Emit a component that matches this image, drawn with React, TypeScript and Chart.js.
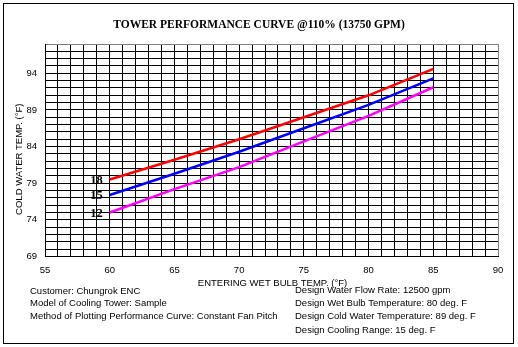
import React, { useEffect, useRef } from "react";
import { Chart, registerables } from "chart.js";

Chart.register(...registerables);

const chartTitle = "TOWER PERFORMANCE CURVE @110% (13750 GPM)";
const xAxisTitle = "ENTERING WET BULB TEMP. (°F)";
const yAxisTitle = "COLD WATER TEMP. (°F)";

const xMin = 55;
const xMax = 90;
const yMin = 69;
const yMax = 98;

const wetBulb = [60, 65, 70, 75, 80, 85];
const range18 = [79.5, 82.2, 85.0, 88.0, 91.0, 94.6];
const range15 = [77.4, 80.3, 83.3, 86.5, 89.7, 93.3];
const range12 = [75.0, 78.2, 81.2, 84.7, 88.2, 92.1];
const rangeLabels = ["18", "15", "12"];
const rangeColors = ["#ff0000", "#0000ff", "#ff00ff"];

const infoLeft = [
  "Customer: Chungrok ENC",
  "Model of Cooling Tower: Sample",
  "Method of Plotting Performance Curve: Constant Fan Pitch",
];
const infoRight = [
  "Design Water Flow Rate: 12500 gpm",
  "Design Wet Bulb Temperature: 80 deg. F",
  "Design Cold Water Temperature: 89 deg. F",
  "Design Cooling Range: 15 deg. F",
];

const SANS = "'Liberation Sans', Arial, sans-serif";
const SERIF = "'Liberation Serif', 'Times New Roman', serif";

export default function App() {
  const ref = useRef<HTMLCanvasElement | null>(null);

  useEffect(() => {
    if (!ref.current) return;
    const series = [range18, range15, range12];

    const decor = {
      id: "decor",
      afterDraw(chart: any) {
        const ctx = chart.ctx;
        const xs = chart.scales.x;
        const ys = chart.scales.y;
        ctx.save();
        // outer frame
        ctx.strokeStyle = "#000";
        ctx.lineWidth = 1;
        ctx.strokeRect(3.5, 3.5, 510, 340);
        // title
        ctx.fillStyle = "#000";
        ctx.font = `bold 11.5px ${SERIF}`;
        ctx.textAlign = "center";
        ctx.textBaseline = "middle";
        ctx.fillText(chartTitle, 259, 25);
        // range labels
        ctx.font = `bold 12.5px ${SERIF}`;
        ctx.textAlign = "right";
        series.forEach((s, i) => {
          const px = xs.getPixelForValue(wetBulb[0]) - 7;
          const py = ys.getPixelForValue(s[0]);
          ctx.fillText(rangeLabels[i], px, py + 1);
        });
        // axis titles
        ctx.font = `9.5px ${SANS}`;
        ctx.textAlign = "center";
        ctx.fillText(xAxisTitle, (chart.chartArea.left + chart.chartArea.right) / 2 + 1, 283);
        ctx.save();
        ctx.translate(19, (chart.chartArea.top + chart.chartArea.bottom) / 2 + 9);
        ctx.rotate(-Math.PI / 2);
        ctx.fillText(yAxisTitle, 0, 0);
        ctx.restore();
        // info text
        ctx.textAlign = "left";
        const leftY = [291.5, 303.5, 316.5];
        infoLeft.forEach((t, i) => ctx.fillText(t, 30, leftY[i]));
        const rightY = [290, 303.5, 316.5, 330];
        infoRight.forEach((t, i) => ctx.fillText(t, 295, rightY[i]));
        ctx.restore();
      },
    };

    const chart = new Chart(ref.current, {
      type: "line",
      data: {
        datasets: series.map((s, i) => ({
          label: rangeLabels[i],
          data: s.map((v, j) => ({ x: wetBulb[j], y: v })),
          borderColor: rangeColors[i],
          backgroundColor: rangeColors[i],
          borderWidth: 2.5,
          pointRadius: 0,
          tension: 0,
          fill: false,
        })),
      },
      options: {
        responsive: false,
        animation: false,
        layout: { padding: { top: 44, right: 20, bottom: 70.5, left: 0 } },
        plugins: {
          legend: { display: false },
          tooltip: { enabled: false },
          title: { display: false },
        },
        scales: {
          x: {
            type: "linear",
            min: xMin,
            max: xMax,
            afterFit: (s: any) => {
              s.height = 20;
            },
            ticks: {
              stepSize: 1,
              autoSkip: false,
              maxRotation: 0,
              padding: 8,
              color: "#000",
              font: { family: SANS, size: 9.5 },
              callback: (v: any) => (Number(v) % 5 === 0 ? String(v) : ""),
            },
            grid: {
              drawTicks: false,
              lineWidth: 1,
              color: (c: any) => (c.tick && c.tick.value === xMax ? "#808080" : "#000"),
            },
            border: { color: "#000" },
          },
          y: {
            type: "linear",
            min: yMin,
            max: yMax,
            afterFit: (s: any) => {
              s.width = 45;
            },
            ticks: {
              stepSize: 1,
              autoSkip: false,
              padding: 8,
              color: "#000",
              font: { family: SANS, size: 9.5 },
              callback: (v: any) => ((Number(v) - yMin) % 5 === 0 && Number(v) < yMax ? String(v) : ""),
            },
            grid: {
              drawTicks: false,
              lineWidth: 1,
              color: (c: any) => (c.tick && c.tick.value === yMax ? "#808080" : "#000"),
            },
            border: { color: "#000" },
          },
        },
      },
      plugins: [decor],
    });
    return () => chart.destroy();
  }, []);

  return (
    <div style={{ position: "absolute", left: 0, top: 0, width: 518, height: 347, background: "#fff" }}>
      <canvas ref={ref} width={518} height={347} style={{ display: "block" }} />
    </div>
  );
}
